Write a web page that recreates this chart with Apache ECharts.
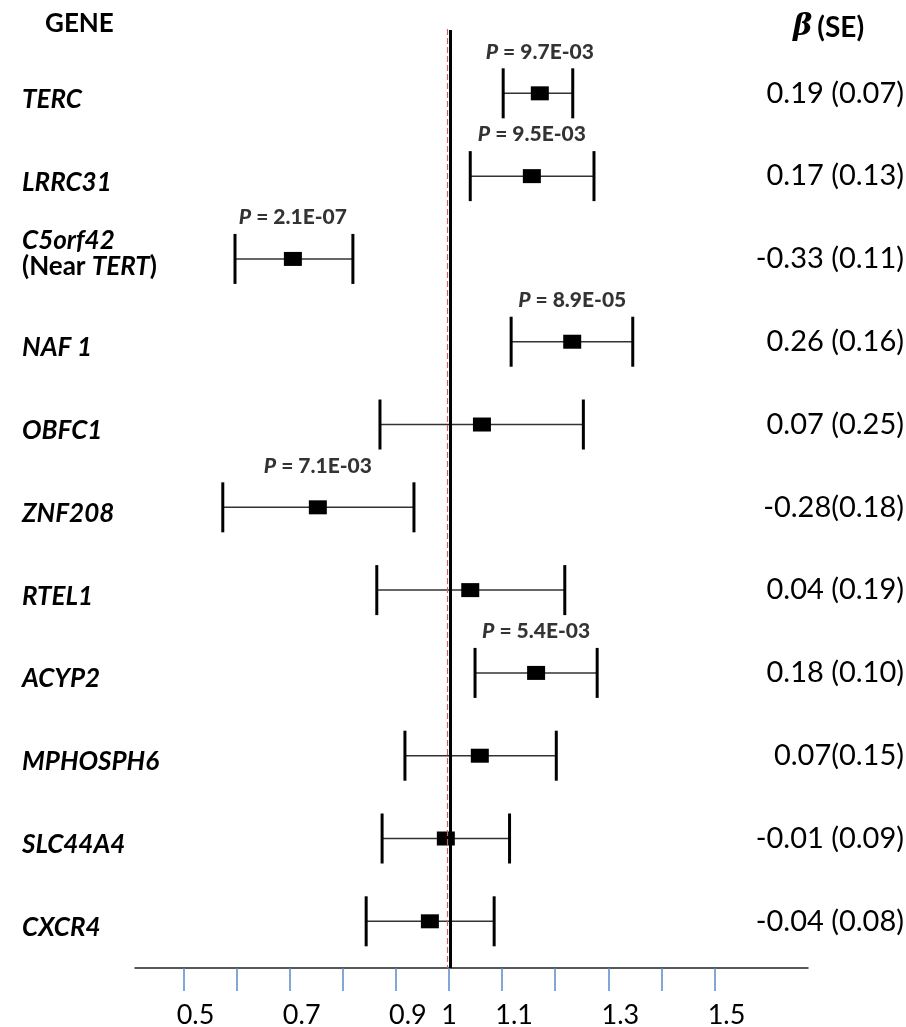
<!DOCTYPE html>
<html><head><meta charset="utf-8">
<script src="https://cdn.jsdelivr.net/npm/echarts@6/dist/echarts.min.js"></script>
<style>html,body{margin:0;padding:0;background:#fff}#c{width:906px;height:1027px}</style>
</head><body><div id="c"></div>
<script>
const genes = ['TERC','LRRC31','C5orf42','NAF 1','OBFC1','ZNF208','RTEL1','ACYP2','MPHOSPH6','SLC44A4','CXCR4'];
const estimate = [1.171,1.156,0.706,1.232,1.062,0.753,1.040,1.164,1.058,0.994,0.964];
const lower    = [1.102,1.040,0.597,1.117,0.870,0.574,0.864,1.049,0.917,0.874,0.844];
const upper    = [1.233,1.273,0.819,1.346,1.253,0.934,1.218,1.279,1.202,1.114,1.085];
const betaSE   = ['0.19 (0.07)','0.17 (0.13)','-0.33 (0.11)','0.26 (0.16)','0.07 (0.25)','-0.28(0.18)','0.04 (0.19)','0.18 (0.10)','0.07(0.15)','-0.01 (0.09)','-0.04 (0.08)'];
const pValues  = ['9.7E-03','9.5E-03','2.1E-07','8.9E-05','','7.1E-03','','5.4E-03','','',''];
const xTicks   = [0.5,0.6,0.7,0.8,0.9,1.0,1.1,1.2,1.3,1.4,1.5];
const xLabels  = [0.5,0.7,0.9,1,1.1,1.3,1.5];
const refValue = 1;

const FONT = 'Lato,"Liberation Sans",Arial,sans-serif';
const rowIdx = genes.map((g,i)=>i);

const ciData = genes.map((g,i)=>[lower[i], estimate[i], upper[i], i]);
const pData = genes.map((g,i)=>[estimate[i], i, pValues[i]]).filter(d=>d[2]);

const chart = echarts.init(document.getElementById('c'));
chart.setOption({
  backgroundColor:'#fff',
  animation:false,
  title:[
    {text:'GENE', left:40, top:6, textStyle:{fontFamily:FONT, fontWeight:'bold', fontSize:26, color:'#000'}},
    {text:'{b|β} {s|(SE)}', left:788, top:8, textStyle:{rich:{
      b:{fontFamily:'"DejaVu Serif",serif', fontStyle:'italic', fontWeight:'bold', fontSize:29, color:'#000'},
      s:{fontFamily:FONT, fontWeight:'bold', fontSize:28, color:'#000'}}}}
  ],
  grid:{left:135, right:98, top:29, bottom:59, containLabel:false, outerBoundsMode:'none'},
  xAxis:{
    type:'value', min:0.4087, max:1.676,
    axisLine:{show:true, onZero:false, lineStyle:{color:'#222', width:1.5}},
    axisTick:{show:true, customValues:xTicks, length:23, lineStyle:{color:'#5b8ac6', width:1.5}},
    axisLabel:{show:true, customValues:xLabels, margin:34, fontFamily:FONT, fontSize:27, color:'#000',
      formatter:v=> v===1 ? '{c|1}' : '{s|'+v+'}',
      rich:{c:{fontFamily:FONT, fontSize:27, color:'#000'},
            s:{fontFamily:FONT, fontSize:27, color:'#000', padding:[0,0,0,24]}}},
    splitLine:{show:false}
  },
  yAxis:[
    {type:'value', inverse:true, min:-0.777, max:10.564, position:'left',
     axisLine:{show:false}, axisTick:{show:false}, splitLine:{show:false},
     axisLabel:{show:true, customValues:rowIdx, align:'left', margin:113,
       formatter:v=>{
         const g = genes[v];
         if(g==='C5orf42') return '{g|C5orf42}\n{n|(Near }{h|TERT}{n|)}';
         return '{g|'+g+'}';
       },
       rich:{
         g:{fontFamily:FONT, fontStyle:'italic', fontWeight:'bold', fontSize:26, color:'#000', padding:[12,0,0,0]},
         h:{fontFamily:FONT, fontStyle:'italic', fontWeight:'bold', fontSize:26, color:'#000', padding:[0,0,22,0]},
         n:{fontFamily:FONT, fontWeight:'bold', fontSize:26, color:'#000', padding:[0,0,22,0]}
       }}},
    {type:'value', inverse:true, min:-0.777, max:10.564, position:'right',
     axisLine:{show:false}, axisTick:{show:false}, splitLine:{show:false},
     axisLabel:{show:true, customValues:rowIdx, align:'right', margin:96,
       fontFamily:FONT, fontSize:29, color:'#000',
       formatter:v=>betaSE[v]}}
  ],
  series:[
    {type:'custom', name:'ref', z:3, clip:false,
     data:[[refValue, 0]],
     renderItem:(params, api)=>{
       const p = api.coord([api.value(0), 0]);
       const cs = params.coordSys;
       return {type:'group', children:[
         {type:'line', shape:{x1:p[0]-1.5, y1:cs.y, x2:p[0]-1.5, y2:cs.y+cs.height},
          style:{stroke:'#c86464', lineWidth:1.2, lineDash:[6,3]}},
         {type:'line', shape:{x1:p[0]+1.5, y1:cs.y+1, x2:p[0]+1.5, y2:cs.y+cs.height},
          style:{stroke:'#000', lineWidth:3}}
       ]};
     }},
    {type:'custom', name:'ci', z:2, clip:false,
     data:ciData, encode:{x:[0,1,2], y:3},
     renderItem:(params, api)=>{
       const y = api.value(3);
       const lo = api.coord([api.value(0), y]);
       const c  = api.coord([api.value(1), y]);
       const hi = api.coord([api.value(2), y]);
       return {type:'group', children:[
         {type:'line', shape:{x1:lo[0], y1:lo[1], x2:hi[0], y2:hi[1]}, style:{stroke:'#333', lineWidth:1.5}},
         {type:'line', shape:{x1:lo[0], y1:lo[1]-25, x2:lo[0], y2:lo[1]+25}, style:{stroke:'#000', lineWidth:3}},
         {type:'line', shape:{x1:hi[0], y1:hi[1]-25, x2:hi[0], y2:hi[1]+25}, style:{stroke:'#000', lineWidth:3}},
         {type:'rect', shape:{x:c[0]-9, y:c[1]-7, width:18, height:14}, style:{fill:'#000'}}
       ]};
     }},
    {type:'scatter', name:'p', symbolSize:0, z:4,
     data:pData,
     label:{show:true, position:'top', distance:31,
       formatter:p=>'{i|P}{b| = '+p.data[2]+'}',
       rich:{i:{fontFamily:FONT, fontStyle:'italic', fontWeight:'900', fontSize:21, color:'#000'},
             b:{fontFamily:FONT, fontWeight:'900', fontSize:21, color:'#000'}}}}
  ]
});
</script>
</body></html>
